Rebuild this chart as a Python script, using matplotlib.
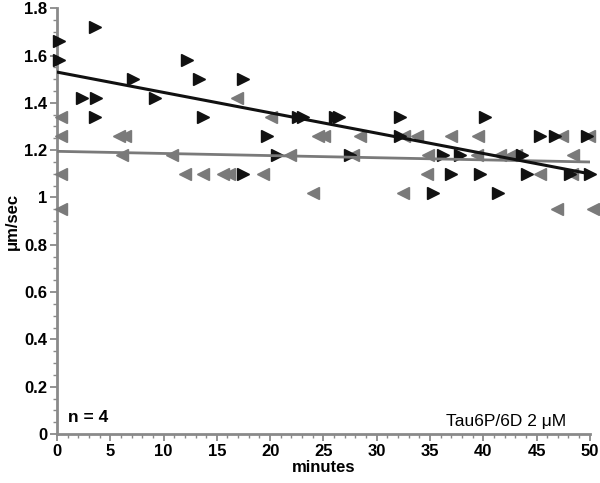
import matplotlib
matplotlib.use("Agg")
import matplotlib.pyplot as plt
from matplotlib.ticker import MultipleLocator

plt.rcParams['font.family'] = ['Liberation Sans', 'DejaVu Sans']

# Black series (right-pointing triangles)
black_t = [0.2, 0.2, 3.6, 2.3, 3.7, 3.6, 7.1, 9.2, 12.2, 13.3, 13.7, 17.5, 19.7, 20.6, 17.5,
           22.6, 23.1, 26.1, 26.5, 32.2, 40.2, 32.2, 45.3, 46.7, 49.7, 27.5, 36.2, 37.8, 43.6,
           37.0, 39.7, 44.1, 50.0, 48.1, 35.3, 41.4]
black_v = [1.66, 1.58, 1.72, 1.42, 1.42, 1.34, 1.50, 1.42, 1.58, 1.50, 1.34, 1.50, 1.26, 1.18, 1.10,
           1.34, 1.34, 1.34, 1.34, 1.34, 1.34, 1.26, 1.26, 1.26, 1.26, 1.18, 1.18, 1.18, 1.18,
           1.10, 1.10, 1.10, 1.10, 1.10, 1.02, 1.02]

# Gray series (left-pointing triangles)
gray_t = [0.4, 0.4, 0.4, 0.4, 5.8, 6.4, 6.1, 10.8, 12.0, 13.7, 15.6, 16.1, 19.3, 16.9, 20.1, 21.9,
          24.5, 25.1, 28.4, 33.8, 37.0, 39.5, 34.8, 39.4, 41.6, 42.6, 43.1, 48.4, 34.7, 45.3,
          24.0, 32.5, 46.9, 50.3, 27.8, 32.6, 47.4, 49.9, 48.3]
gray_v = [1.34, 1.26, 1.10, 0.95, 1.26, 1.26, 1.18, 1.18, 1.10, 1.10, 1.10, 1.10, 1.10, 1.42, 1.34, 1.18,
          1.26, 1.26, 1.26, 1.26, 1.26, 1.26, 1.18, 1.18, 1.18, 1.18, 1.18, 1.18, 1.10, 1.10,
          1.02, 1.02, 0.95, 0.95, 1.18, 1.26, 1.26, 1.26, 1.10]

# Fit lines
fit_t = [0, 50]
fit_black = [1.53, 1.10]
fit_gray = [1.195, 1.15]

BLACK = '#111111'
GRAY = '#7a7a7a'
AX = '#8a8a8a'

fig = plt.figure(figsize=(6.0, 4.83), dpi=100)
ax = fig.add_axes([0.095, 0.1014, 0.888, 0.8816])

ax.plot(gray_t, gray_v, linestyle='none', marker='<', color=GRAY, markersize=9, clip_on=False, zorder=3)
ax.plot(black_t, black_v, linestyle='none', marker='>', color=BLACK, markersize=9, clip_on=False, zorder=4)
ax.plot(fit_t, fit_gray, color=GRAY, linewidth=2.0, zorder=5)
ax.plot(fit_t, fit_black, color=BLACK, linewidth=2.2, zorder=6)

ax.set_xlim(0, 50)
ax.set_ylim(0, 1.8)
for s in ['top', 'right']:
    ax.spines[s].set_visible(False)
for s in ['left', 'bottom']:
    ax.spines[s].set_color(AX)
    ax.spines[s].set_linewidth(2.0)

ax.xaxis.set_major_locator(MultipleLocator(5))
ax.xaxis.set_minor_locator(MultipleLocator(1))
ax.yaxis.set_major_locator(MultipleLocator(0.2))
ax.yaxis.set_minor_locator(MultipleLocator(0.05))
ax.set_yticks([0, 0.2, 0.4, 0.6, 0.8, 1.0, 1.2, 1.4, 1.6, 1.8])
ax.set_yticklabels(['0', '0.2', '0.4', '0.6', '0.8', '1', '1.2', '1.4', '1.6', '1.8'])
ax.tick_params(which='major', direction='out', length=5, width=1.3, color=AX,
               labelsize=12, pad=2)
ax.tick_params(which='minor', direction='out', length=3, width=1.0, color=AX)
for lab in ax.get_xticklabels() + ax.get_yticklabels():
    lab.set_fontweight('bold')

ax.set_xlabel('minutes', fontsize=12, fontweight='bold', labelpad=1)
ax.set_ylabel('μm/sec', fontsize=12, fontweight='bold', labelpad=3)

ax.text(1.0, 0.04, 'n = 4', fontsize=12.5, fontweight='bold', transform=ax.transData, va='bottom')
ax.text(47.8, 0.02, 'Tau6P/6D 2 μM', fontsize=12.5, ha='right', va='bottom', transform=ax.transData)

fig.savefig('out.png', dpi=100)
